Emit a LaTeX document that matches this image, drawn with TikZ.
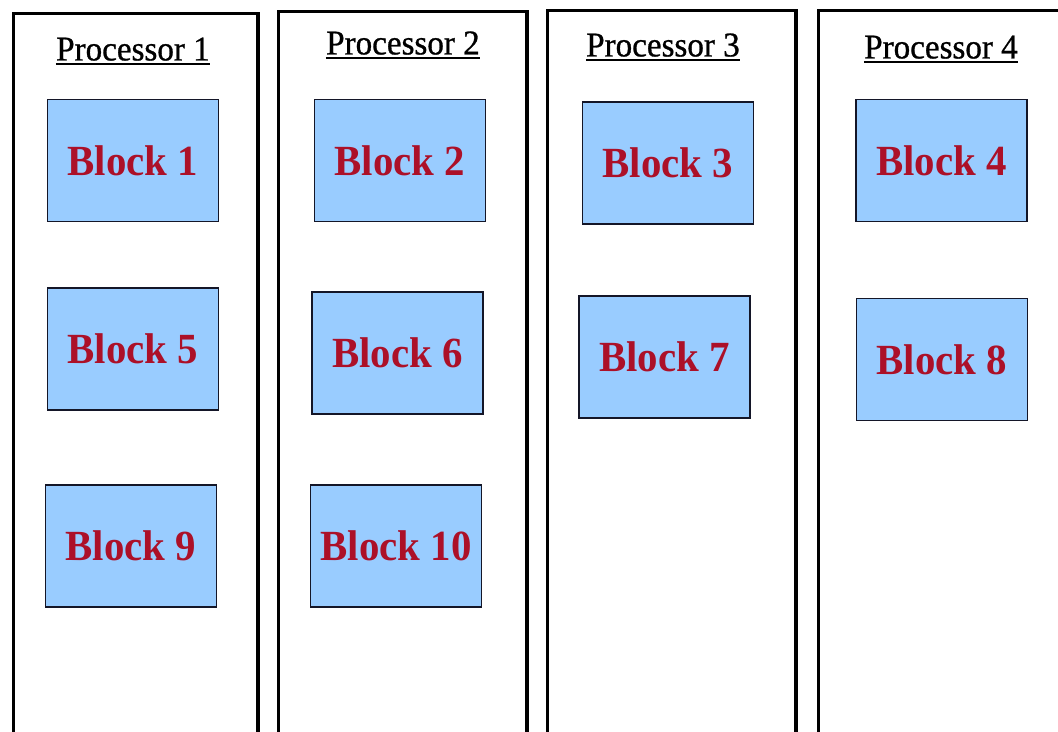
\documentclass[tikz,border=0pt]{standalone}
\usepackage{fontspec}
\setmainfont{Liberation Serif}
\newfontfamily\titlefont[FakeStretch=0.955,FakeBold=0.8]{Liberation Serif}
\newfontfamily\blockfont[FakeStretch=0.95]{Liberation Serif}
\definecolor{blockfill}{RGB}{153,204,255}
\definecolor{blocktext}{RGB}{172,16,40}
\definecolor{blockline}{RGB}{20,22,40}
\tikzset{
  procbox/.style={draw=black, line width=2.6pt, rectangle, anchor=north west, inner sep=0pt},
  proctitle/.style={font=\titlefont\fontsize{26}{30}\selectfont, anchor=south, inner sep=0pt, text=black},
  uline/.style={line width=1.4pt, black},
  blockbox/.style={draw=blockline, fill=blockfill, line width=1.2pt, rectangle,
    minimum width=128.3pt, minimum height=91.3pt, inner sep=0pt,
    font=\blockfont\fontsize{32.25}{36}\selectfont\bfseries, text=blocktext}
}
\begin{document}
\begin{tikzpicture}[x=0.75pt,y=-0.75pt]
\useasboundingbox (0,0) rectangle (1058,732);
\clip (0,0) rectangle (1058,732);
\fill[white] (0,0) rectangle (1058,732);
% processor columns
\node[procbox, minimum width=183.4pt, minimum height=560pt] (p1) at (11.5,11.5) {};
\node[procbox, minimum width=186.4pt, minimum height=560pt] (p2) at (276.5,9.5) {};
\node[procbox, minimum width=186.4pt, minimum height=560pt] (p3) at (545.5,9) {};
\node[procbox, minimum width=200pt, minimum height=560pt] (p4) at (817,9) {};
% titles
\node[proctitle] (t1) at (133,61) {Processor 1};
\node[proctitle] (t2) at (403,55) {Processor 2};
\node[proctitle] (t3) at (663,57) {Processor 3};
\node[proctitle] (t4) at (941,59) {Processor 4};
\foreach \t in {t1,t2,t3,t4}{
  \draw[uline] ([yshift=-2.2pt]\t.south west) -- ([yshift=-2.2pt]\t.south east);
}
% blocks
\node[blockbox] (b1) at (133,160.5) {Block 1};
\node[blockbox] (b2) at (400,160.5) {Block 2};
\node[blockbox] (b3) at (668,163) {Block 3};
\node[blockbox] (b4) at (941.5,160.5) {Block 4};
\node[blockbox] (b5) at (133,349) {Block 5};
\node[blockbox] (b6) at (397.5,353) {Block 6};
\node[blockbox] (b7) at (664.5,357) {Block 7};
\node[blockbox] (b8) at (942,359.5) {Block 8};
\node[blockbox] (b9) at (131,546) {Block 9};
\node[blockbox] (b10) at (396,546) {Block 10};
\end{tikzpicture}
\end{document}
